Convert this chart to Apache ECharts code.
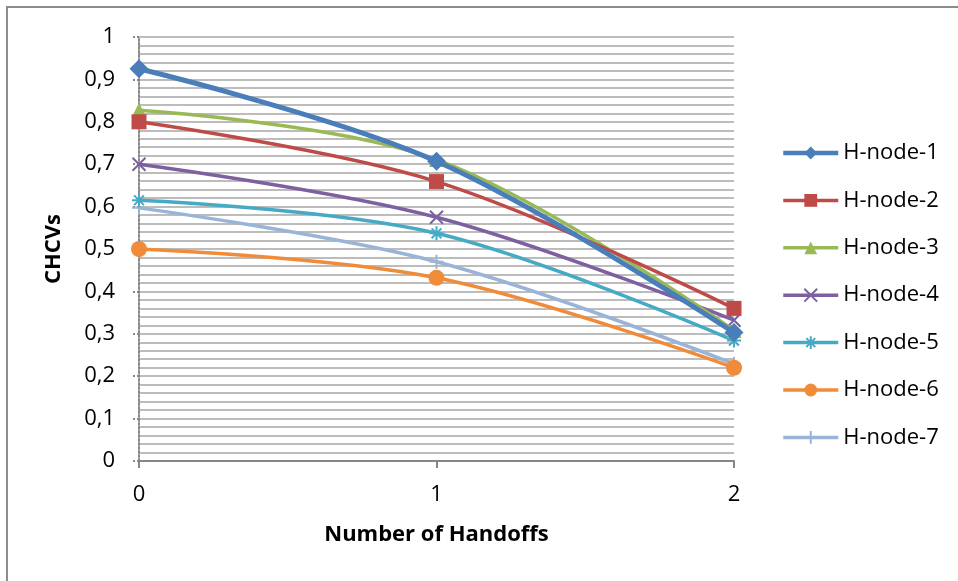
<!DOCTYPE html>
<html>
<head>
<meta charset="utf-8">
<script src="https://cdn.jsdelivr.net/npm/echarts@6/dist/echarts.min.js"></script>
<style>
  html, body { margin: 0; padding: 0; background: #fff; }
  #chart { width: 958px; height: 581px; }
</style>
</head>
<body>
<div id="chart"></div>
<script>
var handoffs = ['0', '1', '2'];
var seriesNames = ['H-node-1', 'H-node-2', 'H-node-3', 'H-node-4', 'H-node-5', 'H-node-6', 'H-node-7'];
var node1 = [0.925, 0.707, 0.303];
var node2 = [0.800, 0.659, 0.360];
var node3 = [0.827, 0.711, 0.308];
var node4 = [0.700, 0.575, 0.332];
var node5 = [0.615, 0.537, 0.284];
var node6 = [0.500, 0.432, 0.220];
var node7 = [0.597, 0.470, 0.229];
var values = [node1, node2, node3, node4, node5, node6, node7];

var colors = ['#4a7ebb', '#be4b48', '#98b954', '#7d60a0', '#46aac5', '#f08b3a', '#9ab4d8'];
var symbols = [
    'diamond',
    'rect',
    'triangle',
    'path://M0,0L10,10M10,0L0,10',
    'path://M5,0L5,10M0,5L10,5M1.5,1.5L8.5,8.5M8.5,1.5L1.5,8.5',
    'circle',
    'path://M5,0L5,10M0,5L10,5'
];
var symbolSizes = [19, 15, 15, 13, 14, 16, 14];
var lineWidths = [5, 3.5, 3.5, 3.5, 3.5, 3.5, 3.5];
var stroked = [false, false, false, true, true, false, true];

var font = '"Open Sans", "Liberation Sans", sans-serif';

var series = [];
var legendData = [];
for (var i = 0; i < seriesNames.length; i++) {
    var item = {
        name: seriesNames[i],
        type: 'line',
        data: values[i],
        smooth: 0.35,
        symbol: symbols[i],
        symbolSize: symbolSizes[i],
        showAllSymbol: true,
        lineStyle: { width: lineWidths[i], color: colors[i] },
        itemStyle: { color: colors[i] },
        z: 10 - i
    };
    if (stroked[i]) {
        item.itemStyle.borderColor = colors[i];
        item.itemStyle.borderWidth = 2;
    }
    series.push(item);
    legendData.push({
        name: seriesNames[i],
        lineStyle: { width: i === 0 ? 4.5 : 3.5, color: colors[i] }
    });
}

var option = {
    animation: false,
    backgroundColor: '#fff',
    graphic: [{
        type: 'rect',
        shape: { x: 7, y: 7, width: 1000, height: 1000 },
        style: { fill: 'none', stroke: '#8c8c8c', lineWidth: 2 },
        silent: true
    }],
    legend: {
        orient: 'vertical',
        left: 781,
        top: 142,
        padding: 0,
        itemWidth: 55,
        itemHeight: 16,
        itemGap: 25.4,
        data: legendData,
        textStyle: { fontFamily: font, fontSize: 22, color: '#000' }
    },
    grid: {
        left: 139,
        right: 224,
        top: 37,
        bottom: 120,
        containLabel: false
    },
    xAxis: {
        type: 'category',
        boundaryGap: false,
        data: handoffs,
        name: 'Number of Handoffs',
        nameLocation: 'middle',
        nameGap: 63,
        nameTextStyle: { fontFamily: font, fontSize: 22, fontWeight: 'bold', color: '#000' },
        axisLine: { lineStyle: { color: '#868686', width: 2 } },
        axisTick: { show: true, length: 7, alignWithLabel: true, lineStyle: { color: '#868686', width: 2 } },
        axisLabel: { fontFamily: font, fontSize: 22, color: '#000', margin: 23 },
        splitLine: { show: false }
    },
    yAxis: {
        type: 'value',
        min: 0,
        max: 1,
        interval: 0.1,
        name: 'CHCVs',
        nameLocation: 'middle',
        nameGap: 74,
        nameTextStyle: { fontFamily: font, fontSize: 22, fontWeight: 'bold', color: '#000' },
        axisLine: { show: true, lineStyle: { color: '#868686', width: 2, type: 'dotted' } },
        axisTick: { show: true, length: 6, lineStyle: { color: '#868686', width: 2, type: 'dotted' } },
        axisLabel: {
            fontFamily: font, fontSize: 22, color: '#000', margin: 24,
            formatter: function (v) {
                return String(Math.round(v * 10) / 10).replace('.', ',');
            }
        },
        splitLine: { show: true, lineStyle: { color: '#a6a6a6', width: 1.5 } },
        minorTick: { show: false, splitNumber: 5 },
        minorSplitLine: { show: true, lineStyle: { color: '#a6a6a6', width: 1.5 } }
    },
    series: series
};

var myChart = echarts.init(document.getElementById('chart'));
myChart.setOption(option);
</script>
</body>
</html>
